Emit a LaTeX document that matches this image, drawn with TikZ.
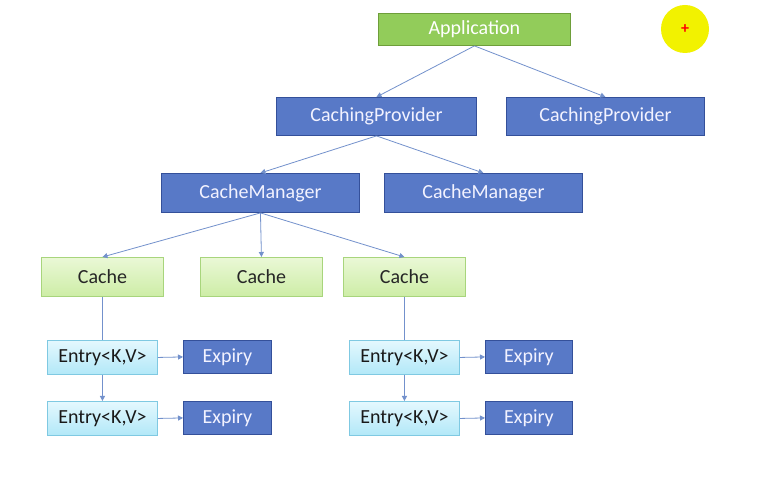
\documentclass[tikz,border=0pt]{standalone}
\usepackage{fontspec}
\setmainfont{Carlito}
\usetikzlibrary{arrows.meta}
\definecolor{appfill}{HTML}{92CC5A}
\definecolor{appline}{HTML}{6E9E3A}
\definecolor{bluefill}{HTML}{5879C7}
\definecolor{blueline}{HTML}{34509A}
\definecolor{cachetop}{HTML}{EAF8D6}
\definecolor{cachebot}{HTML}{CDEDA6}
\definecolor{cacheline}{HTML}{A8D57C}
\definecolor{entrytop}{HTML}{E4F8FE}
\definecolor{entrybot}{HTML}{B2E8F8}
\definecolor{entryline}{HTML}{7FC9E2}
\definecolor{linkcol}{HTML}{7391CC}
\definecolor{dottop}{HTML}{F2F200}
\tikzset{
  box/.style={draw, line width=0.9pt, inner sep=0pt, anchor=north west,
    font=\fontsize{20}{24}\selectfont},
  appbox/.style={box, fill=appfill, draw=appline, text=white},
  darkbox/.style={box, fill=bluefill, draw=blueline, text=white!95!blue},
  cachebox/.style={box, top color=cachetop, bottom color=cachebot, draw=cacheline, text=black!85},
  entrybox/.style={box, top color=entrytop, bottom color=entrybot, draw=entryline, text=black!90},
  link/.style={draw=linkcol, line width=0.8pt},
  arr/.style={link, -{Triangle[length=5pt,width=5pt]}}
}
\begin{document}
\begin{tikzpicture}[x=1pt,y=-1pt]
\useasboundingbox[fill=white] (0,0) rectangle (780,494);

% top level
\node[appbox, minimum width=192pt, minimum height=32pt] (app) at (378,13) {Application};

% caching providers
\node[darkbox, minimum width=200pt, minimum height=38pt] (cp1) at (276,97) {CachingProvider};
\node[darkbox, minimum width=198pt, minimum height=38pt] (cp2) at (506,97) {CachingProvider};

% cache managers
\node[darkbox, minimum width=198pt, minimum height=39pt] (cm1) at (161,173) {CacheManager};
\node[darkbox, minimum width=198pt, minimum height=39pt] (cm2) at (384,173) {CacheManager};

% caches
\node[cachebox, minimum width=122pt, minimum height=39pt] (c1) at (41,257) {Cache};
\node[cachebox, minimum width=122pt, minimum height=39pt] (c2) at (200,257) {Cache};
\node[cachebox, minimum width=122pt, minimum height=39pt] (c3) at (343,257) {Cache};

% entries and expiry policies
\node[entrybox, minimum width=110pt, minimum height=34pt] (e1) at (47,340) {Entry<K,V>};
\node[entrybox, minimum width=110pt, minimum height=34pt] (e2) at (47,401) {Entry<K,V>};
\node[entrybox, minimum width=110pt, minimum height=34pt] (e3) at (349,340) {Entry<K,V>};
\node[entrybox, minimum width=110pt, minimum height=34pt] (e4) at (349,401) {Entry<K,V>};
\node[darkbox, minimum width=88pt, minimum height=33pt] (x1) at (183,340) {Expiry};
\node[darkbox, minimum width=88pt, minimum height=33pt] (x2) at (183,401) {Expiry};
\node[darkbox, minimum width=87pt, minimum height=33pt] (x3) at (485,340) {Expiry};
\node[darkbox, minimum width=87pt, minimum height=33pt] (x4) at (485,401) {Expiry};

% pointer marker
\node[circle, fill=dottop, minimum size=48pt, inner sep=0pt] (dot) at (685,29) {};
\node[text=red, font=\bfseries\fontsize{16}{16}\selectfont, inner sep=0pt] (plus) at (dot.center) {+};

% connectors
\draw[arr] (app.south) -- (cp1.north);
\draw[arr] (app.south) -- (cp2.north);
\draw[arr] (cp1.south) -- (cm1.north);
\draw[arr] (cp1.south) -- (cm2.north);
\draw[arr] (cm1.south) -- (c1.north);
\draw[arr] (cm1.south) -- (c2.north);
\draw[arr] (cm1.south) -- (c3.north);
\draw[link] (c1.south) -- (e1.north);
\draw[link] (c3.south) -- (e3.north);
\draw[arr] (e1.south) -- (e2.north);
\draw[arr] (e3.south) -- (e4.north);
\draw[arr] (e1.east) -- (x1.west);
\draw[arr] (e2.east) -- (x2.west);
\draw[arr] (e3.east) -- (x3.west);
\draw[arr] (e4.east) -- (x4.west);
\end{tikzpicture}
\end{document}
